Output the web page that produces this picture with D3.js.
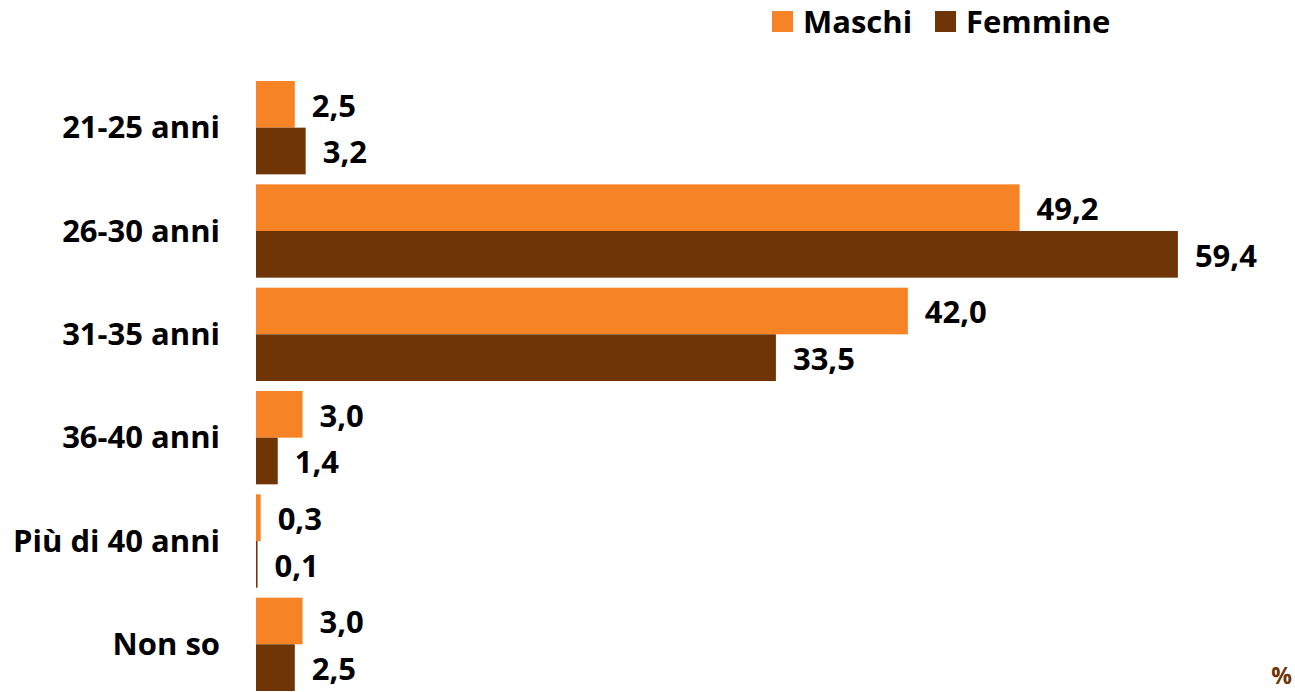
<!DOCTYPE html>
<html>
<head>
<meta charset="utf-8">
<script src="https://cdn.jsdelivr.net/npm/d3@7"></script>
<style>
  html, body { margin: 0; padding: 0; background: #fff; }
  svg { display: block; }
  text { font-family: "Open Sans", "Noto Sans", sans-serif; font-weight: 700; fill: #000; }
</style>
</head>
<body>
<svg id="chart" width="1295" height="692"></svg>
<script>
const categories = ["21-25 anni", "26-30 anni", "31-35 anni", "36-40 anni", "Più di 40 anni", "Non so"];
const seriesNames = ["Maschi", "Femmine"];
const maschi = [2.5, 49.2, 42.0, 3.0, 0.3, 3.0];
const femmine = [3.2, 59.4, 33.5, 1.4, 0.1, 2.5];
const colors = ["#F68426", "#6F3506"];
const unitLabel = "%";

const svg = d3.select("#chart");
const fmt = v => d3.format(".1f")(v).replace(".", ",");

const x = d3.scaleLinear().domain([0, 60]).range([256, 256 + 60 * 15.52]);
const y = d3.scaleBand().domain(categories).range([76, 696]).paddingInner(0.0968).paddingOuter(0.0484);
const ySub = d3.scaleBand().domain(seriesNames).range([0, y.bandwidth()]);

const rows = categories.map((c, i) => ({ cat: c, values: [maschi[i], femmine[i]] }));

const groups = svg.selectAll("g.grp").data(rows).join("g")
  .attr("class", "grp")
  .attr("transform", d => `translate(0,${y(d.cat)})`);

groups.selectAll("rect").data(d => d.values.map((v, k) => ({ v, s: seriesNames[k], k }))).join("rect")
  .attr("x", x(0))
  .attr("y", d => ySub(d.s))
  .attr("width", d => x(d.v) - x(0))
  .attr("height", ySub.bandwidth())
  .attr("fill", d => colors[d.k]);

groups.selectAll("text.val").data(d => d.values.map((v, k) => ({ v, s: seriesNames[k], k }))).join("text")
  .attr("class", "val")
  .attr("x", d => x(d.v) + 17)
  .attr("y", d => ySub(d.s) + ySub.bandwidth() / 2 + 12.5)
  .attr("font-size", 31)
  .text(d => fmt(d.v));

// category labels
svg.selectAll("text.cat").data(categories).join("text")
  .attr("class", "cat")
  .attr("x", 220)
  .attr("y", d => y(d) + y.bandwidth() / 2 + 10.5)
  .attr("text-anchor", "end")
  .attr("font-size", 31)
  .text(d => d);

// legend
const legendX = [772, 935];
const lg = svg.selectAll("g.leg").data(seriesNames).join("g")
  .attr("class", "leg")
  .attr("transform", (d, i) => `translate(${legendX[i]},11)`);
lg.append("rect").attr("width", 21).attr("height", 21).attr("fill", (d, i) => colors[i]);
lg.append("text").attr("x", 31).attr("y", 22).attr("font-size", 31).text(d => d);

svg.append("text")
  .attr("x", 1292).attr("y", 684)
  .attr("text-anchor", "end")
  .attr("font-size", 23)
  .style("fill", colors[1])
  .text(unitLabel);
</script>
</body>
</html>
